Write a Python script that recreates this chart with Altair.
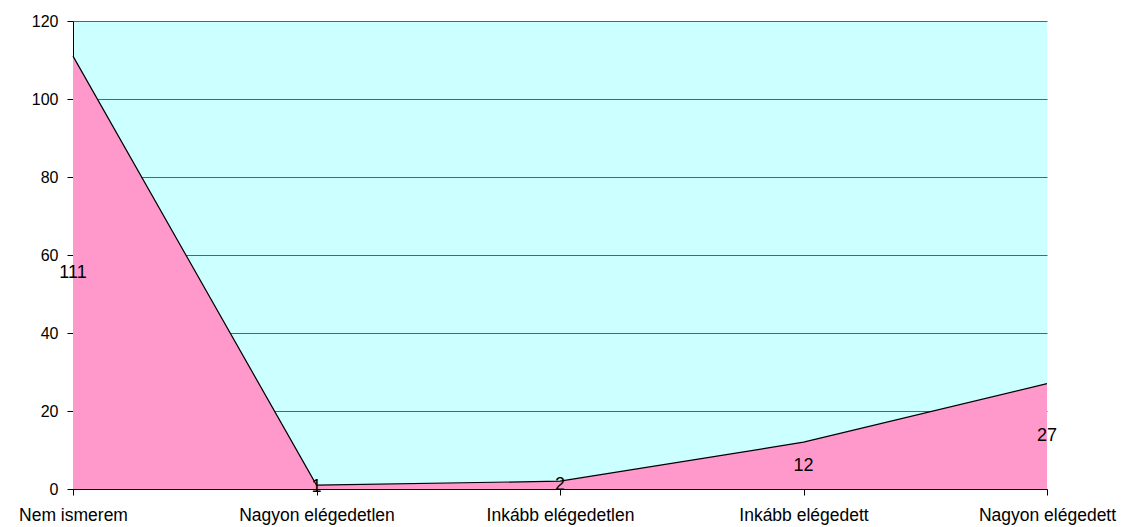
import altair as alt
import pandas as pd

categories = ["Nem ismerem", "Nagyon elégedetlen", "Inkább elégedetlen", "Inkább elégedett", "Nagyon elégedett"]
values = [111, 1, 2, 12, 27]

df = pd.DataFrame({"cat": categories, "val": values})
df["mid"] = df["val"] / 2

x = alt.X("cat:N", sort=categories, scale=alt.Scale(type="point", padding=0),
          axis=alt.Axis(title=None, labelAngle=0, labelFontSize=17.5, labelFont="Liberation Sans",
                        labelColor="black", tickColor="black", domainColor="black",
                        tickSize=6, labelPadding=11, grid=False))
y = alt.Y("val:Q", scale=alt.Scale(domain=[0, 120], nice=False),
          axis=alt.Axis(title=None, values=[0, 20, 40, 60, 80, 100, 120], labelFontSize=16,
                        labelFont="Liberation Sans", labelColor="black", tickColor="black",
                        domainColor="black", tickSize=6, labelPadding=9,
                        grid=True, gridColor="black", gridOpacity=0.6, gridWidth=1))

area = alt.Chart(df).mark_area(color="#FF99CC", opacity=1, line={"color": "black", "strokeWidth": 1.2}).encode(x=x, y=y)

text = alt.Chart(df).mark_text(fontSize=18, font="Liberation Sans", color="black", baseline="middle").encode(
    x=alt.X("cat:N", sort=categories),
    y=alt.Y("mid:Q"),
    text=alt.Text("val:Q"),
)

chart = alt.layer(area, text).properties(
    width=974, height=468,
    autosize=alt.AutoSizeParams(type="none"),
    padding={"left": 65, "top": 13, "right": 70, "bottom": 38},
).configure_view(fill="#CCFFFF", stroke=None)

chart.save("out.html", embed_options={"renderer": "svg", "actions": False})
